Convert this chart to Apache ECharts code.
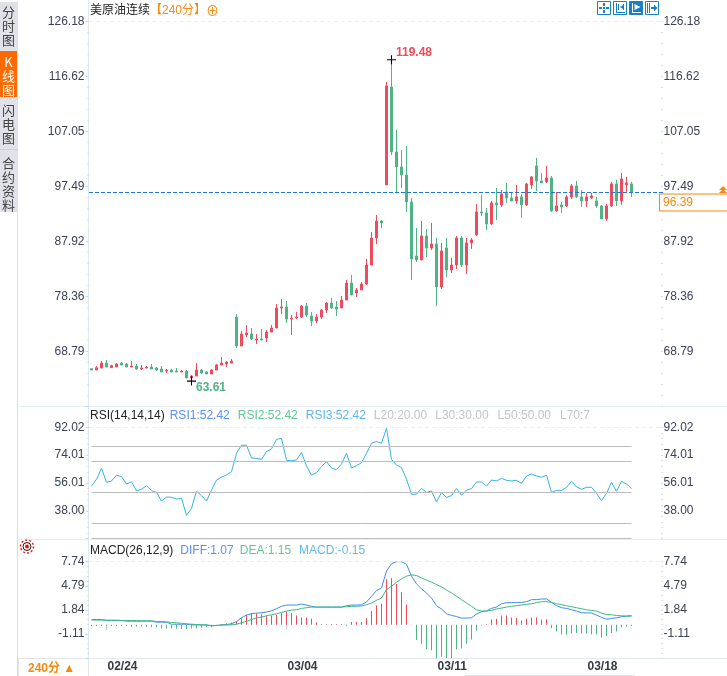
<!DOCTYPE html>
<html>
<head>
<meta charset="utf-8">
<title>美原油连续</title>
<style>
html, body { margin: 0; padding: 0; background: #fff; }
#chart { width: 727px; height: 676px; }
</style>
<script src="https://cdn.jsdelivr.net/npm/echarts@6/dist/echarts.min.js"></script>
</head>
<body>
<div id="chart"></div>
<script>
// [open, close, low, high]
const candles = [
[65.77,65.54,65.54,65.88],[65.54,65.94,65.54,66.23],[65.88,66.75,65.88,67.10],[66.75,66.06,66.06,67.28],[65.94,66.29,65.94,66.46],
[66.06,66.58,66.06,66.75],[66.75,66.41,66.41,66.93],[66.58,66.06,66.06,66.75],[66.06,66.23,66.06,67.10],[66.23,65.71,65.54,66.58],
[65.71,65.88,65.54,66.41],[65.88,66.06,65.88,66.23],[66.06,65.71,65.71,66.58],[65.88,65.54,65.36,66.06],[65.71,65.19,65.19,66.23],
[65.36,65.54,65.02,65.71],[65.54,65.19,65.19,65.71],[65.36,65.19,65.19,65.88],[65.19,65.36,65.19,65.54],[65.36,64.15,64.15,65.54],
[64.15,64.49,63.61,64.67],[64.49,65.54,64.49,66.75],[65.54,65.02,64.84,65.71],[65.19,64.84,64.84,65.36],[64.84,65.54,64.84,65.71],
[65.54,66.41,65.54,66.58],[66.41,66.75,66.41,67.80],[66.58,66.93,66.06,67.10],[66.75,67.10,66.75,67.45],[74.75,69.71,69.36,75.27],
[69.71,71.80,69.71,72.32],[71.62,71.97,71.27,73.36],[71.80,70.93,70.75,72.84],[70.75,70.93,70.06,71.80],[70.93,70.75,70.75,72.67],
[71.10,72.14,70.40,72.49],[72.14,72.84,72.14,73.36],[72.84,76.32,72.84,77.01],[76.32,76.49,75.27,77.88],[76.49,74.40,73.71,77.54],
[74.40,74.58,71.62,75.10],[74.58,74.75,74.40,75.62],[74.75,76.67,74.58,76.84],[76.67,75.10,74.75,77.19],[74.93,74.06,73.19,75.62],
[74.06,74.75,73.71,75.27],[74.75,75.97,74.40,76.14],[75.97,77.19,75.45,77.36],[77.19,76.32,76.14,78.06],[76.49,76.14,74.93,77.54],
[76.32,77.71,76.32,78.40],[77.71,80.67,77.71,81.19],[80.67,78.58,78.58,82.06],[78.93,79.45,78.23,79.80],[79.45,80.49,79.45,80.84],
[80.49,83.80,80.32,84.84],[83.80,88.49,83.80,89.53],[88.49,91.45,87.45,92.49],[91.45,91.10,90.23,91.62],[97.72,114.94,97.72,115.63],
[114.76,103.46,102.94,119.48],[103.46,100.85,96.27,107.28],[100.85,99.46,97.20,103.81],[99.46,94.76,93.02,104.50],[94.76,84.85,81.20,95.46],
[85.37,84.68,84.33,90.24],[84.68,88.85,84.68,91.46],[88.85,86.76,85.20,90.07],[86.76,87.46,86.41,91.11],[87.46,79.98,76.67,88.50],
[79.98,86.24,79.63,87.63],[86.76,82.93,81.72,88.50],[82.93,83.80,82.41,85.02],[83.80,88.50,83.11,88.85],[88.50,83.80,83.46,88.85],
[83.80,87.63,82.24,88.50],[87.63,88.15,86.59,88.50],[89.02,93.02,88.85,94.41],[93.02,92.85,92.33,95.98],[92.85,90.94,89.89,93.72],
[90.94,94.59,90.77,94.94],[94.59,94.25,91.64,97.20],[94.25,96.16,93.90,96.85],[96.51,95.46,94.59,98.07],[95.46,94.94,94.94,96.51],
[94.94,95.64,94.42,97.72],[95.64,94.25,91.99,96.16],[94.25,97.90,94.07,98.07],[97.72,99.12,97.03,99.29],[101.03,98.42,96.68,102.42],
[98.42,98.07,98.07,99.81],[98.25,98.94,98.07,101.03],[98.94,93.20,93.03,99.29],[93.20,94.07,93.03,96.51],[94.25,93.90,92.85,94.77],
[94.07,95.64,93.90,95.98],[95.64,97.55,95.29,97.90],[97.55,95.64,95.46,98.42],[95.64,94.94,93.90,96.85],[94.94,95.64,93.90,96.33],
[95.46,95.81,95.29,96.33],[94.94,94.07,93.72,95.64],[94.07,91.81,91.81,94.25],[91.81,94.07,91.46,94.42],[94.07,97.90,93.90,98.25],
[97.90,94.94,94.07,98.59],[94.94,98.77,94.25,99.81],[97.72,98.07,96.51,99.12],[97.90,96.39,95.64,98.25]
];

const rsi = [54.0,58.4,65.5,56.4,57.3,61.0,60.1,55.3,56.8,50.8,51.9,54.3,51.0,49.9,44.3,46.9,46.7,45.6,46.0,35.1,
39.6,50.6,47.8,44.3,51.4,57.9,59.7,61.2,63.3,75.2,80.4,80.4,72.2,71.9,71.3,76.3,78.0,84.2,84.9,70.7,
70.4,70.9,75.8,67.0,61.0,62.7,66.6,69.8,65.7,64.6,68.3,75.2,65.7,67.2,69.1,75.2,81.7,82.9,81.7,91.4,
71.3,67.6,65.9,58.4,48.7,48.7,52.5,49.9,50.8,43.7,49.9,46.7,47.8,52.5,48.0,51.4,52.3,56.6,56.6,54.0,
57.9,57.3,59.0,57.7,57.3,57.7,55.8,60.5,61.8,60.5,59.7,61.0,49.9,51.2,51.2,53.2,57.1,53.4,51.9,53.2,
53.2,49.3,44.5,49.3,56.4,50.6,57.1,55.3,52.42];

const diff = [.66,.66,.66,.54,.54,.54,.54,.45,.45,.45,.45,.45,.45,.33,.33,.33,.08,.08,.08,.08,
0,0,0,0,-.12,-.08,0,.04,.13,.41,.87,1.20,1.36,1.44,1.48,1.57,1.73,1.98,2.27,2.43,
2.43,2.43,2.55,2.43,2.27,2.18,2.18,2.18,2.18,2.18,2.18,2.35,2.43,2.43,2.47,2.80,3.50,4.20,4.53,6.59,
7.49,7.74,7.74,7.41,5.97,5.02,4.41,3.91,3.29,2.35,1.94,1.36,1.15,1.03,.83,.83,.87,1.32,1.61,1.73,
2.02,2.18,2.59,2.72,2.72,2.72,2.76,2.84,3.09,3.09,3.17,3.17,2.76,2.35,2.10,2.02,1.85,1.69,1.48,1.48,
1.44,1.20,.91,.70,.78,.87,.99,1.07,1.07];

const dea = [.58,.58,.58,.58,.58,.58,.54,.54,.54,.54,.50,.50,.50,.41,.41,.37,.29,.25,.20,.13,
.08,.04,0,-.04,-.08,-.08,-.04,-.02,0,.08,.25,.45,.66,.83,.95,1.11,1.24,1.36,1.53,1.69,
1.81,1.85,2.02,2.10,2.18,2.18,2.18,2.18,2.18,2.18,2.18,2.22,2.27,2.27,2.31,2.47,2.68,3.01,3.29,4.32,
4.73,5.23,5.64,5.97,6.13,6.05,5.76,5.48,5.23,4.94,4.65,4.28,3.91,3.50,3.09,2.68,2.27,1.85,1.69,1.69,
1.77,1.94,2.06,2.18,2.27,2.35,2.43,2.51,2.59,2.72,2.84,2.84,2.76,2.59,2.47,2.35,2.22,2.10,1.98,1.85,
1.77,1.69,1.44,1.28,1.24,1.15,1.11,1.07,1.15];

const macdBars = [-.15,-.15,-.15,-.15,-.15,-.15,-.15,-.15,-.2,-.2,-.2,-.25,-.3,-.3,-.4,-.45,-.45,-.45,-.5,-.5,
-.45,-.4,-.35,-.3,-.3,-.15,.1,.2,.3,.35,.8,1.25,1.45,1.4,1.3,1.15,1.15,1.25,1.45,1.65,
1.45,1.15,.9,.9,.75,.3,.1,.08,.1,.1,.1,-.1,.35,.35,.35,.8,1.7,2.4,2.6,5.6,
5.7,5.0,4.0,2.5,.05,-1.85,-2.3,-3.0,-3.1,-4.05,-3.9,-4.05,-4.05,-3.0,-2.9,-2.3,-1.8,-.7,-.08,.1,
.65,.75,1.15,1.15,.9,.85,.55,.75,.9,.9,.65,.65,-.4,-.8,-1.15,-1.2,-1.05,-1.0,-1.05,-1.05,
-1.15,-1.15,-1.55,-1.4,-1.0,-.8,-.3,-.2,-.15];

const mainTicks = [68.79,78.36,87.92,97.49,107.05,116.62,126.18];
const rsiTicks = [38.00,56.01,74.01,92.02];
const macdTicks = [-1.11,1.84,4.79,7.74];
const rsiLevels = [20,30,50,70,80];
const dateIndex = [3,39,69,99];
const dateLabels = ['02/24','03/04','03/11','03/18'];
const lastPrice = 96.39;
const highPoint = { index: 60, value: 119.48 };
const lowPoint = { index: 20, value: 63.61 };

const UP = '#ef4b5e', DOWN = '#4fb385', ORANGE = '#f7890f', AXIS_TEXT = '#3b4254';
const FONT = '"Liberation Sans", Arial, "Noto Sans CJK SC", sans-serif';
const CROSS = 'path://M0,4.4H10V5.6H0ZM4.4,0H5.6V10H4.4Z';

// 6 empty slots on the right, the price line runs over them
const categories = [];
for (let i = 0; i < candles.length + 6; i++) {
    let pos = dateIndex.indexOf(i);
    categories.push(pos >= 0 ? dateLabels[pos] : String(i));
}

function xAxisOf(gridIndex, visible) {
    return {
        type: 'category',
        gridIndex: gridIndex,
        data: categories,
        boundaryGap: true,
        show: visible,
        axisLine: { show: false },
        axisTick: {
            show: true,
            alignWithLabel: true,
            length: 5,
            lineStyle: { color: '#c9ced6' },
            interval: function (i) { return dateIndex.indexOf(i) >= 0; }
        },
        axisLabel: {
            show: true,
            align: 'left',
            margin: 3,
            padding: [0, 0, 0, 1],
            color: '#343a46',
            fontFamily: FONT,
            fontSize: 12,
            fontWeight: 'bold',
            hideOverlap: false,
            interval: function (i) { return dateIndex.indexOf(i) >= 0; }
        },
        splitLine: { show: false }
    };
}

// one pair of value axes per pane; min + n * interval hits the printed ticks
function yAxesOf(gridIndex, min, max, interval, ticks) {
    let labelFormatter = function (v, i) { return i > 0 && ticks[i - 1] !== undefined ? ticks[i - 1].toFixed(2) : ''; };
    let common = {
        type: 'value',
        gridIndex: gridIndex,
        min: min,
        max: max,
        interval: interval,
        scale: true,
        splitLine: { show: false },
        axisLine: { show: false },
        minorTick: { show: true, splitNumber: 5, length: 1, lineStyle: { color: '#c3cad2' } }
    };
    return [
        Object.assign({}, common, {
            position: 'left',
            offset: 0.5,
            axisTick: { show: true, length: 3, lineStyle: { color: '#bcdcf0' } },
            axisLabel: { color: AXIS_TEXT, fontFamily: FONT, fontSize: 12, margin: 4, formatter: labelFormatter }
        }),
        Object.assign({}, common, {
            position: 'right',
            offset: -2.5,
            axisTick: { show: true, length: 1, lineStyle: { color: '#c3cad2' } },
            axisLabel: { color: AXIS_TEXT, fontFamily: FONT, fontSize: 12, margin: 2, formatter: labelFormatter }
        })
    ];
}

const rsiTop = { yAxis: 92.02, lineStyle: { color: '#eeeeee', type: [4, 3], width: 1 } };
const macdTop = { yAxis: 7.74, lineStyle: { color: '#eeeeee', type: [4, 3], width: 1 } };

function rsiLevelLines() {
    return rsiLevels.map(function (v) {
        return [{ xAxis: 0, yAxis: v }, { xAxis: candles.length - 1, yAxis: v }];
    });
}

function hLine(x1, x2, y, color) {
    return { type: 'line', silent: true, shape: { x1: x1, y1: y, x2: x2, y2: y }, style: { stroke: color, lineWidth: 1 } };
}

function vLine(x, y1, y2, color) {
    return { type: 'line', silent: true, shape: { x1: x, y1: y1, x2: x, y2: y2 }, style: { stroke: color, lineWidth: 1 } };
}

function tabText(text, top, color) {
    return {
        type: 'text', silent: true, x: 8.5, y: top,
        style: { text: text, fill: color, font: '13px "Noto Sans CJK SC"', align: 'center', lineHeight: 14 }
    };
}

// toolbar button, solid = pressed look; glyph is a list of polygons
function toolButton(x, solid, glyph) {
    let ink = solid ? '#ffffff' : '#1a7fc4';
    let parts = [{ type: 'rect', shape: { x: 0.5, y: 0.5, width: 13, height: 13 }, style: { fill: solid ? '#1a7fc4' : '#ffffff', stroke: '#1a7fc4', lineWidth: 1 } }];
    glyph.forEach(function (pts) {
        parts.push({ type: 'polygon', shape: { points: pts }, style: { fill: ink } });
    });
    return { type: 'group', x: x, y: 1, silent: true, children: parts };
}

function box(x, y, w, h) {
    return [[x, y], [x + w, y], [x + w, y + h], [x, y + h]];
}

const chart = echarts.init(document.getElementById('chart'), null, { renderer: 'canvas' });

function richText(color, left) {
    return { color: color, fontSize: 12, fontWeight: 'normal', fontFamily: FONT, padding: [0, 0, 0, left] };
}

const option = {
    animation: false,
    backgroundColor: '#ffffff',
    textStyle: { fontFamily: FONT },
    title: [
        {
            left: 90, top: 4, padding: 0,
            text: '{a|美原油连续}{b|【240分】}{c|⊕}',
            textStyle: { fontWeight: 'normal', rich: {
                a: richText('#222222', 0),
                b: richText(ORANGE, 0),
                c: { color: ORANGE, fontSize: 13, fontFamily: FONT, padding: [1, 0, 0, 0] }
            } }
        },
        {
            left: 90, top: 410, padding: 0,
            text: '{a|RSI(14,14,14)}{b|RSI1:52.42}{c|RSI2:52.42}{d|RSI3:52.42}{e|L20:20.00}{e|L30:30.00}{f|L50:50.00}{f|L70:7}',
            textStyle: { fontWeight: 'normal', rich: {
                a: richText('#222222', 0),
                b: richText('#5b8ff9', 5),
                c: richText('#60c795', 8),
                d: richText('#62b8ec', 8),
                e: richText('#c4c4c4', 8),
                f: richText('#c4c4c4', 9)
            } }
        },
        {
            left: 90, top: 545, padding: 0,
            text: '{a|MACD(26,12,9)}{b|DIFF:1.07}{c|DEA:1.15}{d|MACD:-0.15}',
            textStyle: { fontWeight: 'normal', rich: {
                a: richText('#222222', 0),
                b: richText('#5b8ff9', 7),
                c: richText('#60c795', 6),
                d: richText('#62b8ec', 8)
            } }
        }
    ],
    grid: [
        { left: 89, width: 575, top: 21.3, height: 385 },
        { left: 89, width: 575, top: 427.3, height: 111.3 },
        { left: 89, width: 575, top: 561.7, height: 96.3 }
    ],
    xAxis: [xAxisOf(0, false), xAxisOf(1, false), xAxisOf(2, true)],
    yAxis: [].concat(
        yAxesOf(0, 59.225, 126.18, 9.565, mainTicks),
        yAxesOf(1, 19.99, 92.02, 18.0075, rsiTicks),
        yAxesOf(2, -4.06, 7.74, 2.95, macdTicks)
    ),
    series: [
        {
            name: 'K',
            type: 'candlestick',
            xAxisIndex: 0,
            yAxisIndex: 0,
            data: candles,
            barWidth: 2,
            itemStyle: { color: UP, color0: DOWN, borderColor: UP, borderColor0: DOWN, borderWidth: 1 },
            markPoint: {
                silent: true,
                symbol: CROSS,
                symbolSize: 9,
                itemStyle: { color: '#000000' },
                label: { show: true, position: 'right', distance: 0, fontFamily: FONT, fontSize: 12, fontWeight: 'bold' },
                data: [
                    { coord: [highPoint.index, highPoint.value], value: highPoint.value, label: { color: UP, offset: [0, -7] } },
                    { coord: [lowPoint.index, lowPoint.value], value: lowPoint.value, label: { color: DOWN, offset: [0, 7] } }
                ]
            },
            markLine: {
                silent: true,
                symbol: 'none',
                precision: 2,
                label: { show: false },
                data: [
                    {
                        yAxis: 126.18,
                        lineStyle: { color: '#eeeeee', type: [4, 3], width: 1 }
                    },
                    {
                        yAxis: lastPrice,
                        lineStyle: { color: '#1f78e0', type: [4, 2], width: 1 },
                        label: {
                            show: true,
                            position: 'end',
                            distance: 0,
                            offset: [-4, 10],
                            formatter: lastPrice.toFixed(2),
                            color: ORANGE,
                            fontFamily: FONT,
                            fontSize: 12,
                            backgroundColor: '#ffffff',
                            borderColor: '#ff8400',
                            borderWidth: 1,
                            padding: [2, 40, 2, 3]
                        }
                    }
                ]
            }
        },
        {
            name: 'RSI',
            type: 'line',
            xAxisIndex: 1,
            yAxisIndex: 2,
            data: rsi,
            showSymbol: false,
            lineStyle: { color: '#35b3e6', width: 1 },
            markLine: {
                silent: true,
                symbol: 'none',
                label: { show: false },
                lineStyle: { color: '#bdbdbd', type: 'solid', width: 1 },
                data: [rsiTop].concat(rsiLevelLines())
            }
        },
        {
            name: 'MACD',
            type: 'bar',
            xAxisIndex: 2,
            yAxisIndex: 4,
            data: macdBars,
            barWidth: 1,
            itemStyle: { color: function (p) { return p.value >= 0 ? UP : DOWN; } },
            markLine: { silent: true, symbol: 'none', label: { show: false }, data: [macdTop] }
        },
        {
            name: 'DIFF',
            type: 'line',
            xAxisIndex: 2,
            yAxisIndex: 4,
            data: diff,
            showSymbol: false,
            lineStyle: { color: '#3b8df0', width: 1 }
        },
        {
            name: 'DEA',
            type: 'line',
            xAxisIndex: 2,
            yAxisIndex: 4,
            data: dea,
            showSymbol: false,
            lineStyle: { color: '#3dbb80', width: 1 }
        }
    ],
    graphic: [
        // frame lines
        vLine(88.5, 0, 658, '#dfe9ef'),
        hLine(18, 727, 406.5, '#e8eff3'),
        hLine(18, 727, 539.5, '#e8eff3'),
        hLine(18, 727, 658.5, '#e2eaef'),
        vLine(17.5, 212, 676, '#d9dce3'),
        hLine(465, 635, 675.5, '#e4e8ec'),
        // side tabs
        { type: 'rect', silent: true, shape: { x: 0, y: 2, width: 18, height: 210 }, style: { fill: '#e1e2e9' } },
        { type: 'rect', silent: true, shape: { x: 0, y: 51, width: 17, height: 46 }, style: { fill: '#ff6a00' } },
        hLine(0, 18, 149.5, '#cfd2da'),
        tabText('分\n时\n图', 5, '#444444'),
        tabText('K\n线\n图', 55, '#ffffff'),
        tabText('闪\n电\n图', 103, '#444444'),
        tabText('合\n约\n资\n料', 156, '#444444'),
        // period switch
        { type: 'rect', silent: true, shape: { x: 18.5, y: 658.5, width: 70, height: 18 }, style: { fill: '#ffffff', stroke: '#e2e6ea' } },
        { type: 'text', silent: true, x: 28, y: 663, style: { text: '240分 ▲', fill: ORANGE, font: 'bold 12px "Liberation Sans", "Noto Sans CJK SC"' } },
        // settings icon
        { type: 'circle', silent: true, shape: { cx: 27, cy: 546.5, r: 6.5 }, style: { fill: 'none', stroke: '#f02020', lineWidth: 1.5, lineDash: [2, 2] } },
        { type: 'circle', silent: true, shape: { cx: 27, cy: 546.5, r: 4 }, style: { fill: '#ffffff', stroke: '#111111', lineWidth: 1 } },
        { type: 'circle', silent: true, shape: { cx: 27, cy: 546.5, r: 2 }, style: { fill: '#f01010' } },
        // last price arrows
        { type: 'polygon', silent: true, shape: { points: [[723, 186], [727, 190], [719, 190]] }, style: { fill: '#f7890f' } },
        { type: 'polygon', silent: true, shape: { points: [[723, 189], [727, 193], [719, 193]] }, style: { fill: '#f7890f' } },
        // toolbar
        toolButton(597, false, [box(6, 2, 2, 3), box(6, 9, 2, 3), box(2, 6, 3, 2), box(9, 6, 3, 2), box(6, 6, 2, 2)]),
        toolButton(613, false, [box(3, 2, 1, 10), box(3, 11, 9, 1), box(5, 3, 1, 6), box(10, 3, 1, 6), [[7, 6], [10, 4], [10, 8]]]),
        toolButton(629, true, [box(3, 2, 1, 10), box(3, 11, 9, 1), [[5.5, 3], [11.5, 6], [5.5, 9]]]),
        toolButton(645, false, [box(2, 2, 1, 10), box(4, 2, 1, 10), box(6, 6, 3, 2), [[9, 3.5], [12.5, 7], [9, 10.5]]])
    ]
};

chart.setOption(option);
</script>
</body>
</html>
